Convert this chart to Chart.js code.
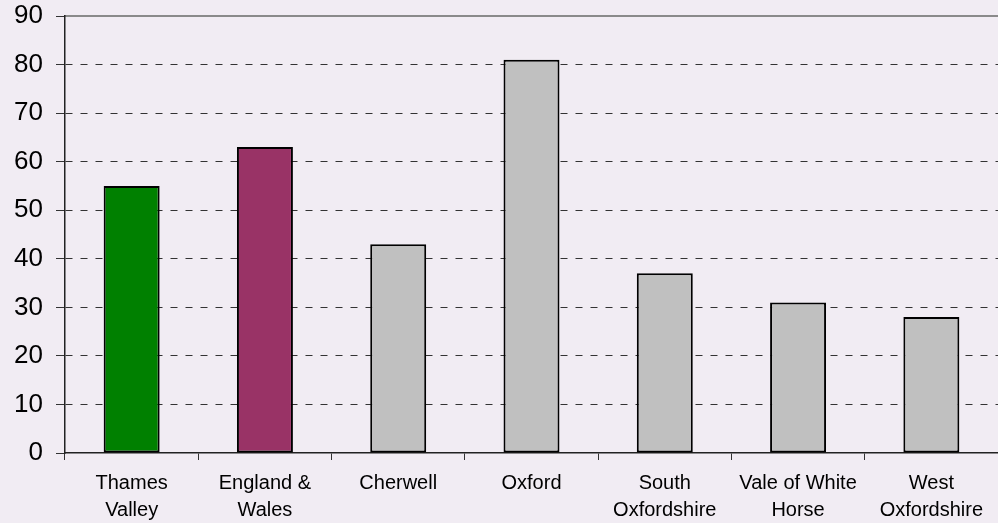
<!DOCTYPE html>
<html>
<head>
<meta charset="utf-8">
<script src="https://cdn.jsdelivr.net/npm/chart.js@4/dist/chart.umd.min.js"></script>
<style>
    html, body { margin: 0; padding: 0; background: #F1ECF3; }
    #wrap { width: 998px; height: 523px; }
</style>
</head>
<body>
<div id="wrap"><canvas id="myChart" width="998" height="523"></canvas></div>
<script>

    // chart data
    var categories = [
        ["Thames", "Valley"],
        ["England &", "Wales"],
        "Cherwell",
        "Oxford",
        ["South", "Oxfordshire"],
        ["Vale of White", "Horse"],
        ["West", "Oxfordshire"]
    ];
    var rates = [55, 63, 43, 81, 37, 31, 28];
    var barColors = ["#008000", "#993366", "#C0C0C0", "#C0C0C0", "#C0C0C0", "#C0C0C0", "#C0C0C0"];
    var yTicks = [0, 10, 20, 30, 40, 50, 60, 70, 80, 90];

    new Chart("myChart", {
        type: "bar",
        data: {
            labels: categories,
            datasets: [{
                data: rates,
                backgroundColor: barColors,
                borderColor: "#000000",
                borderWidth: 2,
                borderSkipped: false,
                barPercentage: 0.42,
                categoryPercentage: 1
            }]
        },
        options: {
            responsive: false,
            animation: false,
            layout: { padding: { top: 16, right: 0, left: 0, bottom: 0 } },
            plugins: {
                legend: { display: false },
                tooltip: { enabled: false }
            },
            scales: {
                x: {
                    position: "bottom",
                    offset: true,
                    grid: {
                        offset: true,
                        drawOnChartArea: false,
                        drawTicks: true,
                        tickLength: 7,
                        tickColor: "#333333",
                        tickWidth: 1
                    },
                    border: { color: "#222222", width: 1.5 },
                    ticks: {
                        color: "#000000",
                        padding: 10,
                        maxRotation: 0,
                        autoSkip: false,
                        font: { family: "'Liberation Sans', Arial, sans-serif", size: 20, lineHeight: 1.35 }
                    },
                    afterFit: function (scale) {
                        scale.height = 70;
                        scale.paddingLeft = 0;
                        scale.paddingRight = 0;
                    }
                },
                xTop: {
                    position: "top",
                    grid: { display: false, drawTicks: false },
                    ticks: { display: false },
                    border: { color: "#8A8A8A", width: 2 },
                    afterFit: function (scale) { scale.height = 0; }
                },
                y: {
                    min: 0,
                    max: 90,
                    afterBuildTicks: function (scale) {
                        scale.ticks = yTicks.map(function (v) { return { value: v }; });
                    },
                    grid: {
                        color: function (ctx) {
                            return (ctx.tick && (ctx.tick.value === 0 || ctx.tick.value === 90)) ? "rgba(0,0,0,0)" : "#333333";
                        },
                        lineWidth: 1,
                        tickLength: 9,
                        tickColor: "#333333",
                        tickWidth: 1
                    },
                    border: { color: "#222222", width: 1.5, dash: [7, 8] },
                    ticks: {
                        color: "#000000",
                        padding: 13,
                        font: { family: "'Liberation Sans', Arial, sans-serif", size: 26 }
                    },
                    afterFit: function (scale) {
                        scale.width = 65;
                        scale.paddingTop = 0;
                        scale.paddingBottom = 0;
                    }
                }
            }
        }
    });

</script>
</body>
</html>
